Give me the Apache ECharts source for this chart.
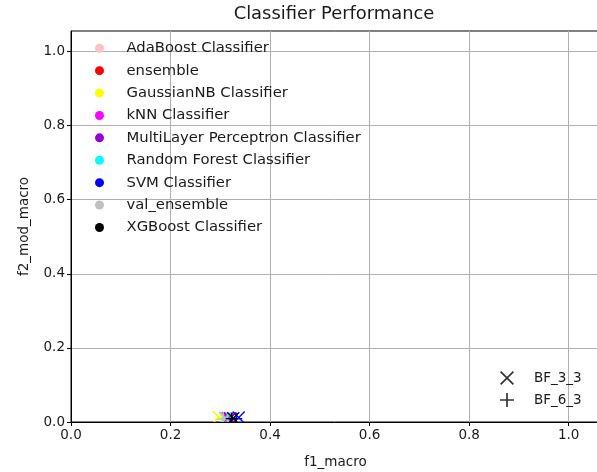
<!DOCTYPE html>
<html>
<head>
<meta charset="utf-8">
<script src="https://cdn.jsdelivr.net/npm/echarts@6/dist/echarts.min.js"></script>
<style>
html, body { margin: 0; padding: 0; background: #fff; }
#chart { width: 597px; height: 472px; }
</style>
</head>
<body>
<div id="chart"></div>
<script>
var classifiers = ['AdaBoost Classifier', 'ensemble', 'GaussianNB Classifier', 'kNN Classifier',
	'MultiLayer Perceptron Classifier', 'Random Forest Classifier', 'SVM Classifier',
	'val_ensemble', 'XGBoost Classifier'];
var colors = ['#ffc0cb', '#ff0000', '#ffff00', '#ff00ff', '#9400d3', '#00ffff', '#0000ff', '#c0c0c0', '#000000'];
var markers = ['BF_3_3', 'BF_6_3'];

// f1_macro / f2_mod_macro for each classifier, one array per feature set
var bf33F1 = [0.312, 0.318, 0.297, 0.315, 0.320, 0.310, 0.337, 0.311, 0.326];
var bf33F2 = [0.010, 0.009, 0.013, 0.010, 0.010, 0.011, 0.012, 0.009, 0.010];
var bf63F1 = [0.309, 0.322, 0.302, 0.320, 0.316, 0.314, 0.332, 0.306, 0.323];
var bf63F2 = [0.009, 0.008, 0.010, 0.009, 0.009, 0.010, 0.009, 0.008, 0.009];

var xTicks = [0, 0.2, 0.4, 0.6, 0.8, 1.0];
var yTicks = [0, 0.2, 0.4, 0.6, 0.8, 1.0];

var crossPath = 'path://M0,0.85L0.85,0L5,4.15L9.15,0L10,0.85L5.85,5L10,9.15L9.15,10L5,5.85L0.85,10L0,9.15L4.15,5Z';
var plusPath = 'path://M4.4,0H5.6V4.4H10V5.6H5.6V10H4.4V5.6H0V4.4H4.4Z';

function tickFmt(ticks) {
	return function(v) {
		for (var i = 0; i < ticks.length; i++) {
			if (Math.abs(ticks[i] - v) < 1e-6) return v.toFixed(1);
		}
		return '';
	};
}

// x / + markers, clipped at the axes like matplotlib
function renderMarker(params, api) {
	var p = api.coord([api.value(0), api.value(1)]);
	var r = 6;
	var color = api.visual('color');
	var style = { stroke: color, lineWidth: 1.4 };
	var lines;
	if (api.value(2) === 0) {
		lines = [[p[0] - r, p[1] - r, p[0] + r, p[1] + r], [p[0] - r, p[1] + r, p[0] + r, p[1] - r]];
	} else {
		lines = [[p[0] - r, p[1], p[0] + r, p[1]], [p[0], p[1] - r, p[0], p[1] + r]];
	}
	return {
		type : 'group',
		children : lines.map(function(l) {
			return { type : 'line', shape : { x1 : l[0], y1 : l[1], x2 : l[2], y2 : l[3] }, style : style };
		})
	};
}

var series = classifiers.map(function(name, i) {
	return {
		name : name,
		type : 'custom',
		clip : true,
		itemStyle : { color : colors[i] },
		encode : { x : 0, y : 1 },
		renderItem : renderMarker,
		data : [ [ bf33F1[i], bf33F2[i], 0 ], [ bf63F1[i], bf63F2[i], 1 ] ]
	};
});
markers.forEach(function(name) {
	series.push({ name : name, type : 'scatter', itemStyle : { color : '#000' }, data : [] });
});

var textColor = '#1a1a1a';
var font = 'DejaVu Sans';

var myChart = echarts.init(document.getElementById('chart'));
var option = {
	animation : false,
	backgroundColor : '#fff',
	title : {
		text : 'Classifier Performance',
		left : 329,
		top : 0,
		textAlign : 'center',
		textStyle : { fontFamily : font, fontSize : 17.9, fontWeight : 'normal', color : textColor }
	},
	grid : {
		left : 71, top : 31, right : -3, bottom : 50,
		outerBoundsMode : 'none',
		containLabel : false,
		show : true, borderColor : '#000', borderWidth : 1, backgroundColor : 'transparent'
	},
	legend : [ {
		orient : 'vertical',
		left : 90,
		top : 34.5,
		itemWidth : 44,
		itemHeight : 9,
		itemGap : 4.9,
		selectedMode : false,
		textStyle : { fontFamily : font, fontSize : 14.8, color : textColor, lineHeight : 17.5 },
		data : classifiers.map(function(n) { return { name : n, icon : 'circle' }; })
	}, {
		orient : 'vertical',
		left : 495,
		top : 365,
		itemWidth : 44,
		itemHeight : 14,
		itemGap : 6,
		selectedMode : false,
		textStyle : { fontFamily : font, fontSize : 13.5, color : textColor, lineHeight : 16 },
		data : [ { name : markers[0], icon : crossPath }, { name : markers[1], icon : plusPath } ]
	} ],
	xAxis : {
		type : 'value',
		min : 0,
		max : 1.063,
		interval : 0.2,
		name : 'f1_macro',
		nameLocation : 'middle',
		nameGap : 33,
		nameTextStyle : { fontFamily : font, fontSize : 13.5, color : textColor },
		axisLine : { show : true, lineStyle : { color : '#000', width : 1 } },
		axisTick : { show : true, length : 4, customValues : xTicks, lineStyle : { color : '#000' } },
		axisLabel : { fontFamily : font, fontSize : 13.5, color : textColor, margin : 6, customValues : xTicks, formatter : tickFmt(xTicks) },
		splitLine : { show : true, lineStyle : { color : '#b0b0b0', width : 1 } }
	},
	yAxis : {
		type : 'value',
		min : 0,
		max : 1.055,
		interval : 0.2,
		name : 'f2_mod_macro',
		nameLocation : 'middle',
		nameGap : 40,
		nameTextStyle : { fontFamily : font, fontSize : 13.5, color : textColor },
		axisLine : { show : true, lineStyle : { color : '#000', width : 1 } },
		axisTick : { show : true, length : 4, customValues : yTicks, lineStyle : { color : '#000' } },
		axisLabel : { fontFamily : font, fontSize : 13.5, color : textColor, margin : 6, customValues : yTicks, formatter : tickFmt(yTicks) },
		splitLine : { show : true, lineStyle : { color : '#b0b0b0', width : 1 } }
	},
	series : series
};
myChart.setOption(option);
</script>
</body>
</html>
